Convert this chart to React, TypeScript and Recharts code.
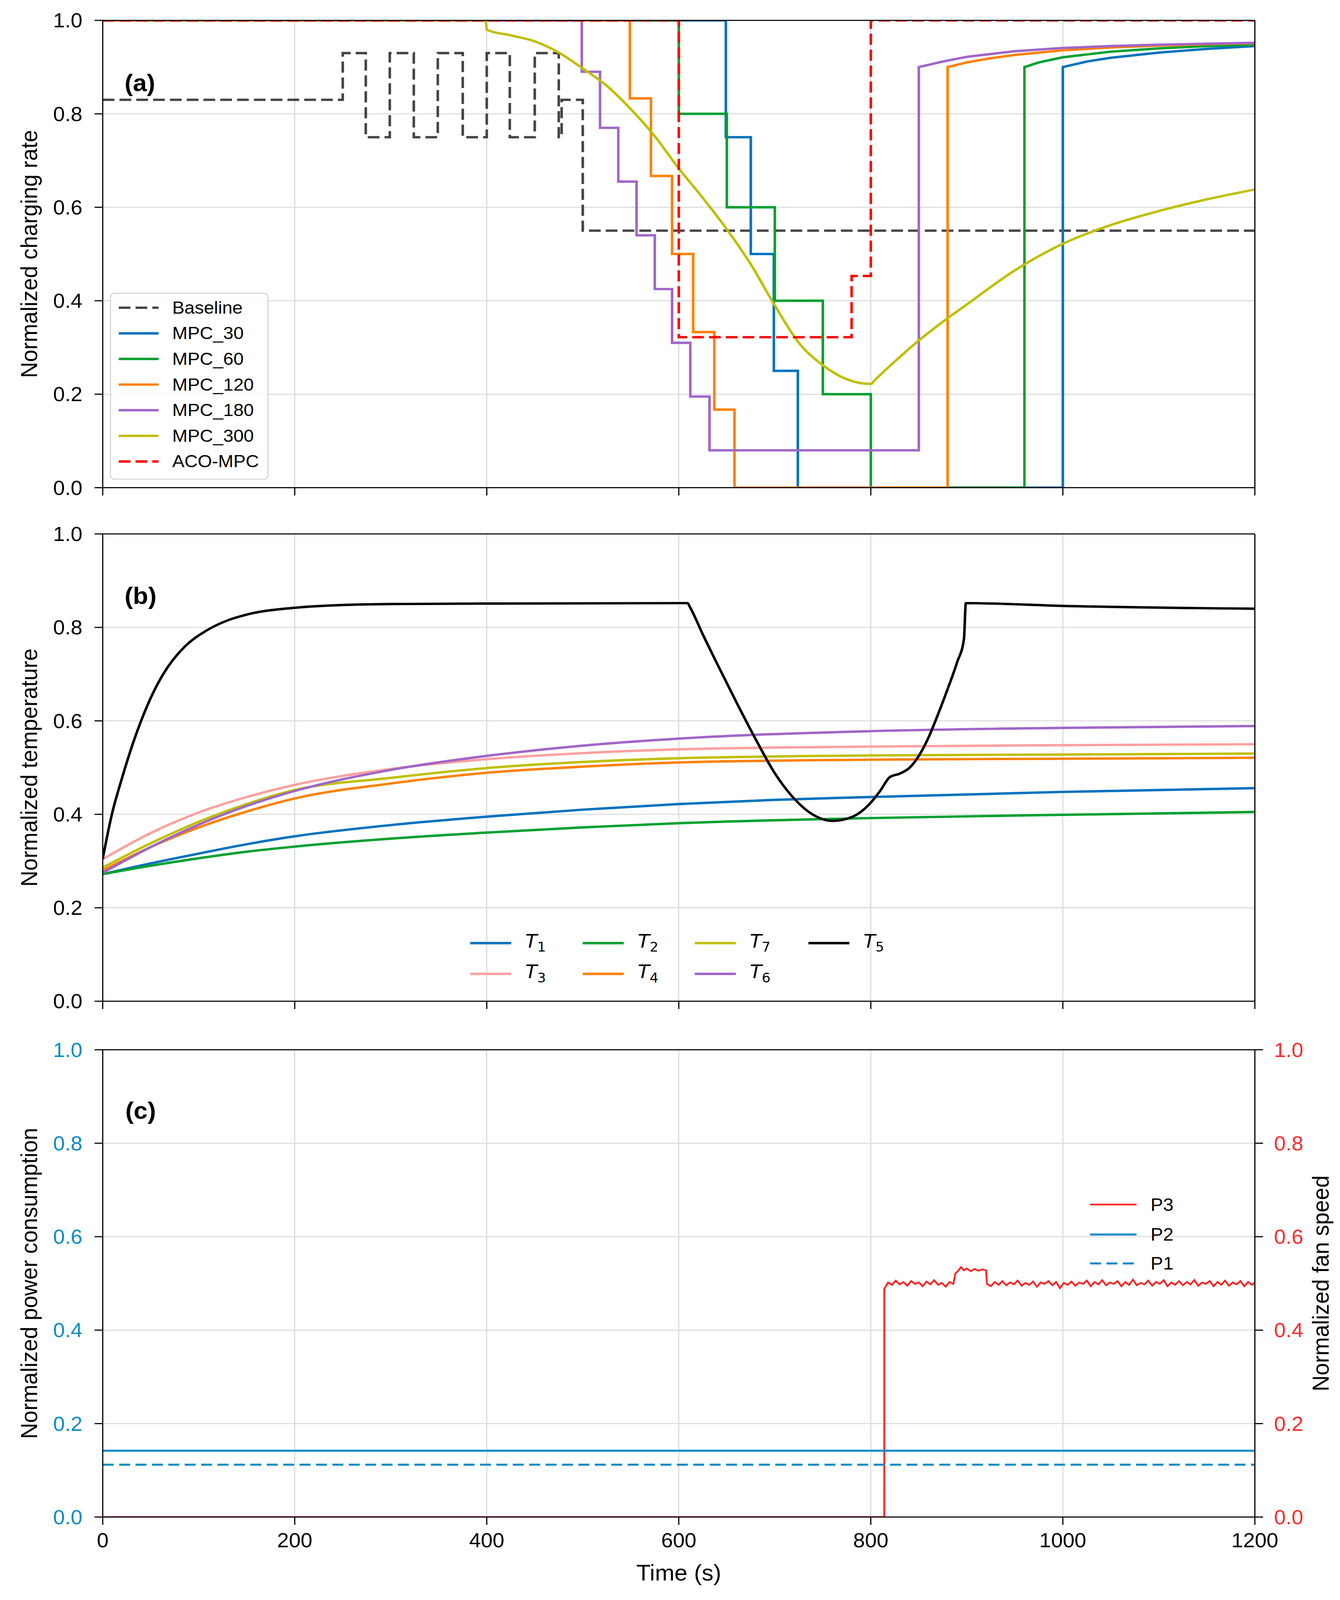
import { CartesianGrid, Label, Line, LineChart, XAxis, YAxis } from "recharts";

type Pt = [number, number];
type Curve = "linear" | "monotone";

const X_TICKS = [0, 200, 400, 600, 800, 1000, 1200];
const Y_TICKS = [0, 0.2, 0.4, 0.6, 0.8, 1.0];

// (a) charging-rate commands, [time s, normalized rate]
const BASELINE: Pt[] = [
  [0, 0.83], [250, 0.83], [250, 0.93], [274, 0.93], [274, 0.75], [299, 0.75],
  [299, 0.93], [324, 0.93], [324, 0.75], [349, 0.75], [349, 0.93], [375, 0.93],
  [375, 0.75], [400, 0.75], [400, 0.93], [424, 0.93], [424, 0.75], [450, 0.75],
  [450, 0.93], [475, 0.93], [475, 0.75], [478, 0.75], [478, 0.83], [500, 0.83],
  [500, 0.55], [1200, 0.55],
];
const MPC_30: Pt[] = [
  [0, 1], [649, 1], [649, 0.75], [675, 0.75], [675, 0.5], [699, 0.5], [699, 0.25],
  [724, 0.25], [724, 0], [1000, 0], [1000, 0.9], [1025, 0.912], [1050, 0.92],
  [1100, 0.931], [1150, 0.939], [1200, 0.945],
];
const MPC_60: Pt[] = [
  [0, 1], [600, 1], [600, 0.8], [650, 0.8], [650, 0.6], [700, 0.6], [700, 0.4],
  [750, 0.4], [750, 0.2], [800, 0.2], [800, 0], [960, 0], [960, 0.9], [975, 0.91],
  [1000, 0.921], [1050, 0.933], [1100, 0.94], [1150, 0.945], [1200, 0.948],
];
const MPC_120: Pt[] = [
  [0, 1], [549, 1], [549, 0.833], [571, 0.833], [571, 0.667], [593, 0.667],
  [593, 0.5], [615, 0.5], [615, 0.333], [637, 0.333], [637, 0.167], [658, 0.167],
  [658, 0], [880, 0], [880, 0.9], [900, 0.91], [925, 0.919], [950, 0.926],
  [1000, 0.936], [1050, 0.942], [1100, 0.946], [1150, 0.949], [1200, 0.951],
];
const MPC_180: Pt[] = [
  [0, 1], [499, 1], [499, 0.89], [518, 0.89], [518, 0.77], [537, 0.77],
  [537, 0.655], [556, 0.655], [556, 0.54], [575, 0.54], [575, 0.425], [593, 0.425],
  [593, 0.31], [612, 0.31], [612, 0.195], [632, 0.195], [632, 0.08], [850, 0.08],
  [850, 0.9], [875, 0.912], [900, 0.922], [950, 0.934], [1000, 0.941],
  [1050, 0.945], [1100, 0.948], [1150, 0.95], [1200, 0.952],
];
const MPC_300: Pt[] = [
  [0, 1], [399, 1], [400, 0.98], [425, 0.968], [450, 0.955], [475, 0.931],
  [500, 0.897], [525, 0.86], [550, 0.81], [575, 0.752], [600, 0.683], [625, 0.62],
  [650, 0.553], [675, 0.478], [700, 0.39], [725, 0.31], [750, 0.262], [775, 0.232],
  [800, 0.222], [805, 0.232], [825, 0.27], [850, 0.315], [875, 0.355], [900, 0.392],
  [950, 0.465], [1000, 0.522], [1050, 0.562], [1100, 0.592], [1150, 0.617],
  [1200, 0.638],
];
const ACO_MPC: Pt[] = [
  [0, 1], [600, 1], [600, 0.322], [780, 0.322], [780, 0.453], [800, 0.453],
  [800, 1], [1200, 1],
];

// (b) normalized temperatures
const T1: Pt[] = [
  [0, 0.272], [50, 0.295], [100, 0.316], [150, 0.336], [200, 0.353], [300, 0.377],
  [400, 0.395], [500, 0.41], [600, 0.422], [700, 0.431], [800, 0.437],
  [1000, 0.448], [1200, 0.456],
];
const T2: Pt[] = [
  [0, 0.272], [50, 0.29], [100, 0.306], [150, 0.32], [200, 0.331], [300, 0.348],
  [400, 0.361], [500, 0.372], [600, 0.381], [800, 0.392], [1000, 0.399],
  [1200, 0.405],
];
const T3: Pt[] = [
  [0, 0.304], [50, 0.36], [100, 0.404], [150, 0.437], [200, 0.463], [300, 0.497],
  [400, 0.518], [500, 0.531], [600, 0.539], [800, 0.545], [1000, 0.548],
  [1200, 0.55],
];
const T4: Pt[] = [
  [0, 0.28], [50, 0.33], [100, 0.372], [150, 0.406], [200, 0.434], [300, 0.466],
  [400, 0.489], [500, 0.502], [600, 0.511], [800, 0.517], [1000, 0.519],
  [1200, 0.521],
];
const T5: Pt[] = [
  [0, 0.305], [10, 0.404], [19, 0.47], [32, 0.555], [48, 0.64], [63, 0.7],
  [85, 0.758], [107, 0.792], [130, 0.815], [151, 0.828], [200, 0.842], [250, 0.848],
  [300, 0.85], [400, 0.851], [609, 0.852], [612, 0.842], [625, 0.785], [640, 0.722],
  [660, 0.64], [680, 0.561], [700, 0.488], [720, 0.434], [740, 0.399], [760, 0.386],
  [780, 0.394], [800, 0.425], [810, 0.451], [820, 0.48], [830, 0.487], [840, 0.499],
  [850, 0.525], [860, 0.564], [870, 0.614], [880, 0.668], [890, 0.726],
  [897, 0.775], [899, 0.852], [1000, 0.846], [1200, 0.84],
];
const T6: Pt[] = [
  [0, 0.275], [50, 0.33], [100, 0.378], [150, 0.418], [200, 0.45], [300, 0.495],
  [400, 0.525], [500, 0.547], [600, 0.562], [800, 0.578], [1000, 0.585],
  [1200, 0.589],
];
const T7: Pt[] = [
  [0, 0.286], [50, 0.338], [100, 0.384], [150, 0.422], [200, 0.452], [300, 0.478],
  [400, 0.499], [500, 0.512], [600, 0.52], [800, 0.526], [1000, 0.528],
  [1200, 0.53],
];

// (c) power consumption (left axis) and fan speed (right axis)
const P1: Pt[] = [[0, 0.112], [1200, 0.112]];
const P2: Pt[] = [[0, 0.142], [1200, 0.142]];
const P3: Pt[] = [
  [0, 0], [814, 0], [814, 0.488], [818, 0.502], [822, 0.497], [826, 0.506],
  [830, 0.498], [834, 0.503], [838, 0.495], [842, 0.505], [846, 0.499], [850, 0.502],
  [854, 0.494], [858, 0.504], [862, 0.498], [866, 0.507], [870, 0.497], [874, 0.501],
  [878, 0.493], [882, 0.503], [886, 0.499], [888, 0.521], [891, 0.527], [894, 0.535],
  [897, 0.528], [900, 0.532], [904, 0.526], [908, 0.531], [912, 0.527], [916, 0.53],
  [920, 0.528], [921, 0.499], [925, 0.494], [929, 0.503], [933, 0.497], [937, 0.505],
  [941, 0.496], [945, 0.502], [949, 0.498], [953, 0.506], [957, 0.495], [961, 0.501],
  [965, 0.497], [969, 0.504], [973, 0.493], [977, 0.502], [981, 0.499], [985, 0.505],
  [989, 0.496], [993, 0.503], [997, 0.49], [1001, 0.501], [1005, 0.497],
  [1009, 0.504], [1013, 0.495], [1017, 0.502], [1021, 0.499], [1025, 0.506],
  [1029, 0.494], [1033, 0.503], [1037, 0.498], [1041, 0.507], [1045, 0.496],
  [1049, 0.502], [1053, 0.499], [1057, 0.505], [1061, 0.494], [1065, 0.503],
  [1069, 0.497], [1073, 0.508], [1077, 0.496], [1081, 0.501], [1085, 0.498],
  [1089, 0.506], [1093, 0.495], [1097, 0.503], [1101, 0.499], [1105, 0.507],
  [1109, 0.494], [1113, 0.502], [1117, 0.497], [1121, 0.505], [1125, 0.496],
  [1129, 0.503], [1133, 0.498], [1137, 0.507], [1141, 0.495], [1145, 0.502],
  [1149, 0.499], [1153, 0.505], [1157, 0.494], [1161, 0.503], [1165, 0.497],
  [1169, 0.506], [1173, 0.495], [1177, 0.502], [1181, 0.498], [1185, 0.505],
  [1189, 0.494], [1193, 0.503], [1197, 0.497], [1200, 0.502],
];

interface Series {
  name: string;
  sub?: string;
  points: Pt[];
  color: string;
  dash?: string;
  curve: Curve;
  width?: number;
  axis?: string;
}

const CHARGING: Series[] = [
  { name: "Baseline", points: BASELINE, color: "#444444", dash: "30 13", curve: "linear" },
  { name: "MPC_30", points: MPC_30, color: "#0072bd", curve: "linear" },
  { name: "MPC_60", points: MPC_60, color: "#00a030", curve: "linear" },
  { name: "MPC_120", points: MPC_120, color: "#ff8000", curve: "linear" },
  { name: "MPC_180", points: MPC_180, color: "#a066c8", curve: "linear" },
  { name: "MPC_300", points: MPC_300, color: "#bfbf00", curve: "monotone" },
  { name: "ACO-MPC", points: ACO_MPC, color: "#ff0000", dash: "30 13", curve: "linear" },
];

// plotting order follows the legend's column order
const TEMPS: Series[] = [
  { name: "T", sub: "1", points: T1, color: "#0072bd", curve: "monotone" },
  { name: "T", sub: "3", points: T3, color: "#ffa0a0", curve: "monotone" },
  { name: "T", sub: "2", points: T2, color: "#00a030", curve: "monotone" },
  { name: "T", sub: "4", points: T4, color: "#ff8000", curve: "monotone" },
  { name: "T", sub: "7", points: T7, color: "#bfbf00", curve: "monotone" },
  { name: "T", sub: "6", points: T6, color: "#a066c8", curve: "monotone" },
  { name: "T", sub: "5", points: T5, color: "#000000", curve: "monotone" },
];

const POWER: Series[] = [
  { name: "P3", points: P3, color: "#ff2020", curve: "linear", width: 4.5, axis: "right" },
  { name: "P2", points: P2, color: "#0a8bc8", curve: "linear", width: 5.5 },
  { name: "P1", points: P1, color: "#0a8bc8", dash: "28 14", curve: "linear", width: 5.5 },
];

const FONT = "'Liberation Sans', Arial, Helvetica, sans-serif";
const PAGE_W = 3431;
const PAGE_H = 4321;
const PLOT_L = 263;
const PLOT_R = 3213;
const PLOT_H = 1262;
const Y_AXIS_W = 200;
const LINE_W = 6.5;
const SPINE = { stroke: "#000", strokeWidth: 3 };
const BLUE_TICK = "#0a8bc8";
const RED_TICK = "#ff2b2b";

const rows = (pts: Pt[]) => pts.map(([t, v]) => ({ t, v }));
const fmt = (v: number) => v.toFixed(1);
const noLabel = () => <g />;

interface PanelProps {
  top: number;
  height: number;
  plotTop: number;
  series: Series[];
  yTitle: string;
  showXLabels?: boolean;
  leftTickColor?: string;
  rightTitle?: string;
}

function Panel({ top, height, plotTop, series, yTitle, showXLabels, leftTickColor, rightTitle }: PanelProps) {
  const xAxisH = showXLabels ? 100 : 40;
  const rightW = rightTitle ? 150 : 1;
  const mid = plotTop + PLOT_H / 2;
  return (
    <div style={{ position: "absolute", left: 0, top, width: PAGE_W, height }}>
      <LineChart
        width={PAGE_W}
        height={height}
        margin={{
          top: plotTop - 1,
          right: PAGE_W - PLOT_R - rightW,
          bottom: height - plotTop - PLOT_H - xAxisH,
          left: PLOT_L - Y_AXIS_W,
        }}
      >
        <CartesianGrid stroke="#d6d6d6" strokeWidth={2.5} yAxisId="left" />
        {series.map((s) => (
          <Line
            key={s.name + (s.sub ?? "")}
            data={rows(s.points)}
            dataKey="v"
            yAxisId={s.axis ?? "left"}
            type={s.curve}
            stroke={s.color}
            strokeWidth={s.width ?? LINE_W}
            strokeDasharray={s.dash}
            dot={false}
            activeDot={false}
            isAnimationActive={false}
          />
        ))}
        <XAxis
          dataKey="t"
          type="number"
          domain={[0, 1200]}
          ticks={X_TICKS}
          interval={0}
          allowDataOverflow
          height={xAxisH}
          axisLine={SPINE}
          tickLine={SPINE}
          tickSize={21}
          tickMargin={22}
          tick={showXLabels ? { fontSize: 54, fill: "#000", fontFamily: FONT } : noLabel}
        >
          {showXLabels && (
            <Label
              content={() => (
                <text
                  x={(PLOT_L + PLOT_R) / 2}
                  y={plotTop + PLOT_H + 171}
                  textAnchor="middle"
                  fontSize={60}
                  fontFamily={FONT}
                  fill="#000"
                >
                  Time (s)
                </text>
              )}
            />
          )}
        </XAxis>
        <XAxis
          xAxisId="top"
          orientation="top"
          type="number"
          domain={[0, 1200]}
          ticks={X_TICKS}
          height={1}
          tick={noLabel}
          tickLine={false}
          axisLine={SPINE}
        />
        <YAxis
          yAxisId="left"
          type="number"
          domain={[0, 1]}
          ticks={Y_TICKS}
          interval={0}
          allowDataOverflow
          width={Y_AXIS_W}
          axisLine={SPINE}
          tickLine={SPINE}
          tickSize={21}
          tickMargin={31}
          tickFormatter={fmt}
          tick={{ fontSize: 54, fill: leftTickColor ?? "#000", fontFamily: FONT }}
        >
          <Label
            content={() => (
              <text
                transform={`translate(95, ${mid}) rotate(-90)`}
                textAnchor="middle"
                fontSize={60}
                fontFamily={FONT}
                fill="#000"
              >
                {yTitle}
              </text>
            )}
          />
        </YAxis>
        <YAxis
          yAxisId="right"
          orientation="right"
          type="number"
          domain={[0, 1]}
          ticks={Y_TICKS}
          interval={0}
          allowDataOverflow
          width={rightW}
          axisLine={SPINE}
          tickLine={rightTitle ? SPINE : false}
          tickSize={21}
          tickMargin={28}
          tickFormatter={fmt}
          tick={rightTitle ? { fontSize: 54, fill: RED_TICK, fontFamily: FONT } : noLabel}
        >
          {rightTitle && (
            <Label
              content={() => (
                <text
                  transform={`translate(3402, ${mid}) rotate(-90)`}
                  textAnchor="middle"
                  fontSize={60}
                  fontFamily={FONT}
                  fill="#000"
                >
                  {rightTitle}
                </text>
              )}
            />
          )}
        </YAxis>
      </LineChart>
    </div>
  );
}

function LegendSwatch({ x, y, len, s }: { x: number; y: number; len: number; s: Series }) {
  return (
    <line
      x1={x}
      x2={x + len}
      y1={y}
      y2={y}
      stroke={s.color}
      strokeWidth={s.width ?? LINE_W}
      strokeDasharray={s.dash}
    />
  );
}

function Overlay() {
  const aRows = CHARGING.map((s, i) => ({ s, y: 831 + i * 69.2 }));
  // legend (b): 4 columns, filled column by column
  const bCols = [1204, 1492, 1779, 2070];
  const bRows = [2547, 2630];
  const cRows = [3253, 3334, 3412];
  return (
    <svg
      width={PAGE_W}
      height={PAGE_H}
      style={{ position: "absolute", left: 0, top: 0, pointerEvents: "none" }}
    >
      <g fontFamily={FONT} fontWeight="bold" fontSize={64} fill="#000">
        <text x={319} y={246}>(a)</text>
        <text x={319} y={1631}>(b)</text>
        <text x={321} y={3021}>(c)</text>
      </g>

      <rect x={283} y={792} width={403} height={502} rx={10} fill="#fff" fillOpacity={0.8} stroke="#cfcfcf" strokeWidth={2.5} />
      {aRows.map(({ s, y }) => (
        <g key={s.name}>
          <LegendSwatch x={304} y={y} len={102} s={s} />
          <text x={441} y={y + 16} fontSize={47} fontFamily={FONT} fill="#000">
            {s.name}
          </text>
        </g>
      ))}

      {TEMPS.map((s, i) => {
        const x = bCols[Math.floor(i / 2)];
        const y = bRows[i % 2];
        return (
          <g key={s.sub}>
            <LegendSwatch x={x} y={y} len={105} s={s} />
            <text x={x + 141} y={y + 12} fontSize={50} fontFamily="'DejaVu Sans', sans-serif" fontStyle="italic" fill="#000">
              {s.name}
              <tspan fontSize={35} dy={11} fontStyle="normal">{s.sub}</tspan>
            </text>
          </g>
        );
      })}

      {POWER.map((s, i) => (
        <g key={s.name}>
          <LegendSwatch x={2791} y={cRows[i]} len={119} s={s} />
          <text x={2946} y={cRows[i] + 17} fontSize={48} fontFamily={FONT} fill="#000">
            {s.name}
          </text>
        </g>
      ))}
    </svg>
  );
}

export default function App() {
  // the visible viewport can be shorter than the figure; squeeze it vertically to fit
  const viewH = typeof window !== "undefined" && window.innerHeight > 0 ? window.innerHeight : PAGE_H;
  const squeeze = Math.min(1, viewH / PAGE_H);
  return (
    <div
      style={{
        position: "absolute",
        left: 0,
        top: 0,
        width: PAGE_W,
        height: Math.floor(PAGE_H * squeeze),
        overflow: "hidden",
        background: "#fff",
      }}
    >
      <div
        style={{
          position: "absolute",
          left: 0,
          top: 0,
          width: PAGE_W,
          height: PAGE_H,
          fontFamily: FONT,
          transform: `scale(1, ${squeeze})`,
          transformOrigin: "0 0",
        }}
      >
        <Panel top={0} height={1400} plotTop={55} series={CHARGING} yTitle="Normalized charging rate" />
        <Panel top={1400} height={1400} plotTop={42} series={TEMPS} yTitle="Normalized temperature" />
        <Panel
          top={2800}
          height={1521}
          plotTop={35}
          series={POWER}
          yTitle="Normalized power consumption"
          showXLabels
          leftTickColor={BLUE_TICK}
          rightTitle="Normalized fan speed"
        />
        <Overlay />
      </div>
    </div>
  );
}
